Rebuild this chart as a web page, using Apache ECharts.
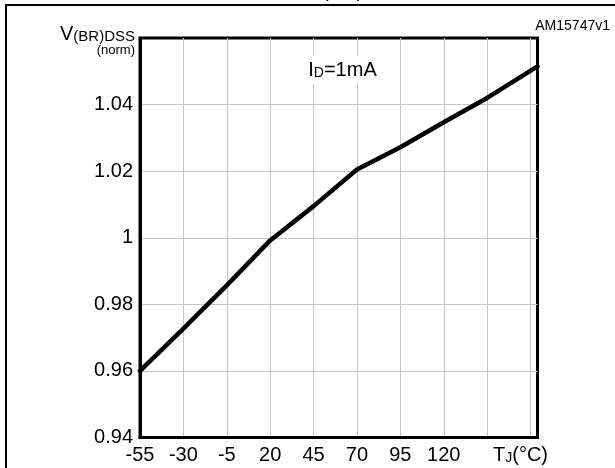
<!DOCTYPE html>
<html>
<head>
<meta charset="utf-8">
<script src="https://cdn.jsdelivr.net/npm/echarts@6/dist/echarts.min.js"></script>
<style>
  html, body { margin: 0; padding: 0; background: #fff; }
  #chart { width: 615px; height: 468px; }
</style>
</head>
<body>
<div id="chart"></div>
<script>
// Data (Tj in °C, normalised V(BR)DSS)
const tempC = [-55, -30, -5, 20, 45, 70, 95, 120, 145, 174];
const vbrNorm = [0.9600, 0.9727, 0.9857, 0.9992, 1.0095, 1.0205, 1.0272, 1.0347, 1.0420, 1.0515];
const xLabels = [-55, -30, -5, 20, 45, 70, 95, 120];
const yLabels = [0.94, 0.96, 0.98, 1, 1.02, 1.04];

const FONT = '"Liberation Sans", Arial, Helvetica, sans-serif';
const seriesData = tempC.map((t, i) => [t, vbrNorm[i]]);

const chart = echarts.init(document.getElementById('chart'), null, { renderer: 'canvas' });

chart.setOption({
  backgroundColor: '#fff',
  animation: false,
  textStyle: { fontFamily: FONT },
  grid: {
    left: 140, right: 77.5, top: 38, bottom: 30.5,
    show: true, borderColor: '#000', borderWidth: 3, backgroundColor: 'transparent'
  },
  xAxis: {
    type: 'value', min: -55, max: 174, interval: 25,
    axisLine: { show: true, onZero: false, lineStyle: { color: '#000', width: 3 } },
    axisTick: { show: false },
    splitLine: { show: true, showMinLine: false, showMaxLine: false, lineStyle: { color: '#c6c6c6', width: 1 } },
    axisLabel: {
      margin: 7.5, color: '#000', fontSize: 20, fontFamily: FONT,
      formatter: v => (xLabels.indexOf(Math.round(v)) >= 0 ? String(Math.round(v)) : '')
    }
  },
  yAxis: {
    type: 'value', min: 0.94, max: 1.06, interval: 0.02,
    axisLine: { show: true, onZero: false, lineStyle: { color: '#000', width: 3 } },
    axisTick: { show: false },
    splitLine: { show: true, showMinLine: false, showMaxLine: false, lineStyle: { color: '#c6c6c6', width: 1 } },
    axisLabel: {
      margin: 7, color: '#000', fontSize: 20, fontFamily: FONT,
      formatter: v => {
        const r = parseFloat(v.toFixed(2));
        return yLabels.indexOf(r) >= 0 ? String(r) : '';
      }
    }
  },
  series: [{
    type: 'line',
    data: seriesData,
    showSymbol: false,
    symbol: 'none',
    smooth: false,
    lineStyle: { color: '#000', width: 4.5, cap: 'round', join: 'round' },
    z: 5
  }],
  graphic: [
    // outer frame
    { type: 'rect', shape: { x: 6, y: 5, width: 700, height: 600 },
      style: { fill: 'none', stroke: '#000', lineWidth: 2 }, z: 50, silent: true },
    // clipped title fragment at top
    { type: 'text', x: 322, y: 1.5, z: 50, silent: true,
      style: { text: '(BR)', font: '20px ' + FONT, fill: '#000', align: 'left', verticalAlign: 'bottom' } },
    // document reference
    { type: 'text', x: 610, y: 33, z: 50, silent: true,
      style: { text: 'AM15747v1', font: '14px ' + FONT, fill: '#000', align: 'right', verticalAlign: 'bottom' } },
    // y axis name
    { type: 'text', x: 135, y: 44, z: 50, silent: true,
      style: {
        text: '{v|V}{s|(BR)DSS}', align: 'right', verticalAlign: 'bottom', fill: '#000',
        rich: {
          v: { fontSize: 20, fontFamily: FONT, fill: '#000', verticalAlign: 'bottom' },
          s: { fontSize: 15, fontFamily: FONT, fill: '#000', verticalAlign: 'bottom' }
        }
      } },
    { type: 'text', x: 135, y: 57, z: 50, silent: true,
      style: { text: '(norm)', font: '13px ' + FONT, fill: '#000', align: 'right', verticalAlign: 'bottom' } },
    // x axis name
    { type: 'text', x: 493, y: 445, z: 50, silent: true,
      style: {
        text: '{t|T}{j|J}{t|(°C)}', align: 'left', verticalAlign: 'top', fill: '#000',
        rich: {
          t: { fontSize: 20, fontFamily: FONT, fill: '#000', verticalAlign: 'bottom' },
          j: { fontSize: 14, fontFamily: FONT, fill: '#000', verticalAlign: 'bottom' }
        }
      } },
    // condition annotation
    { type: 'text', x: 342.5, y: 56, z: 50, silent: true,
      style: {
        text: '{t|I}{d|D}{t|=1mA}', align: 'center', verticalAlign: 'top', fill: '#000',
        backgroundColor: '#fff', padding: [4, 7, 4, 7],
        rich: {
          t: { fontSize: 20, fontFamily: FONT, fill: '#000', verticalAlign: 'bottom' },
          d: { fontSize: 14, fontFamily: FONT, fill: '#000', verticalAlign: 'bottom' }
        }
      } }
  ]
});
</script>
</body>
</html>
